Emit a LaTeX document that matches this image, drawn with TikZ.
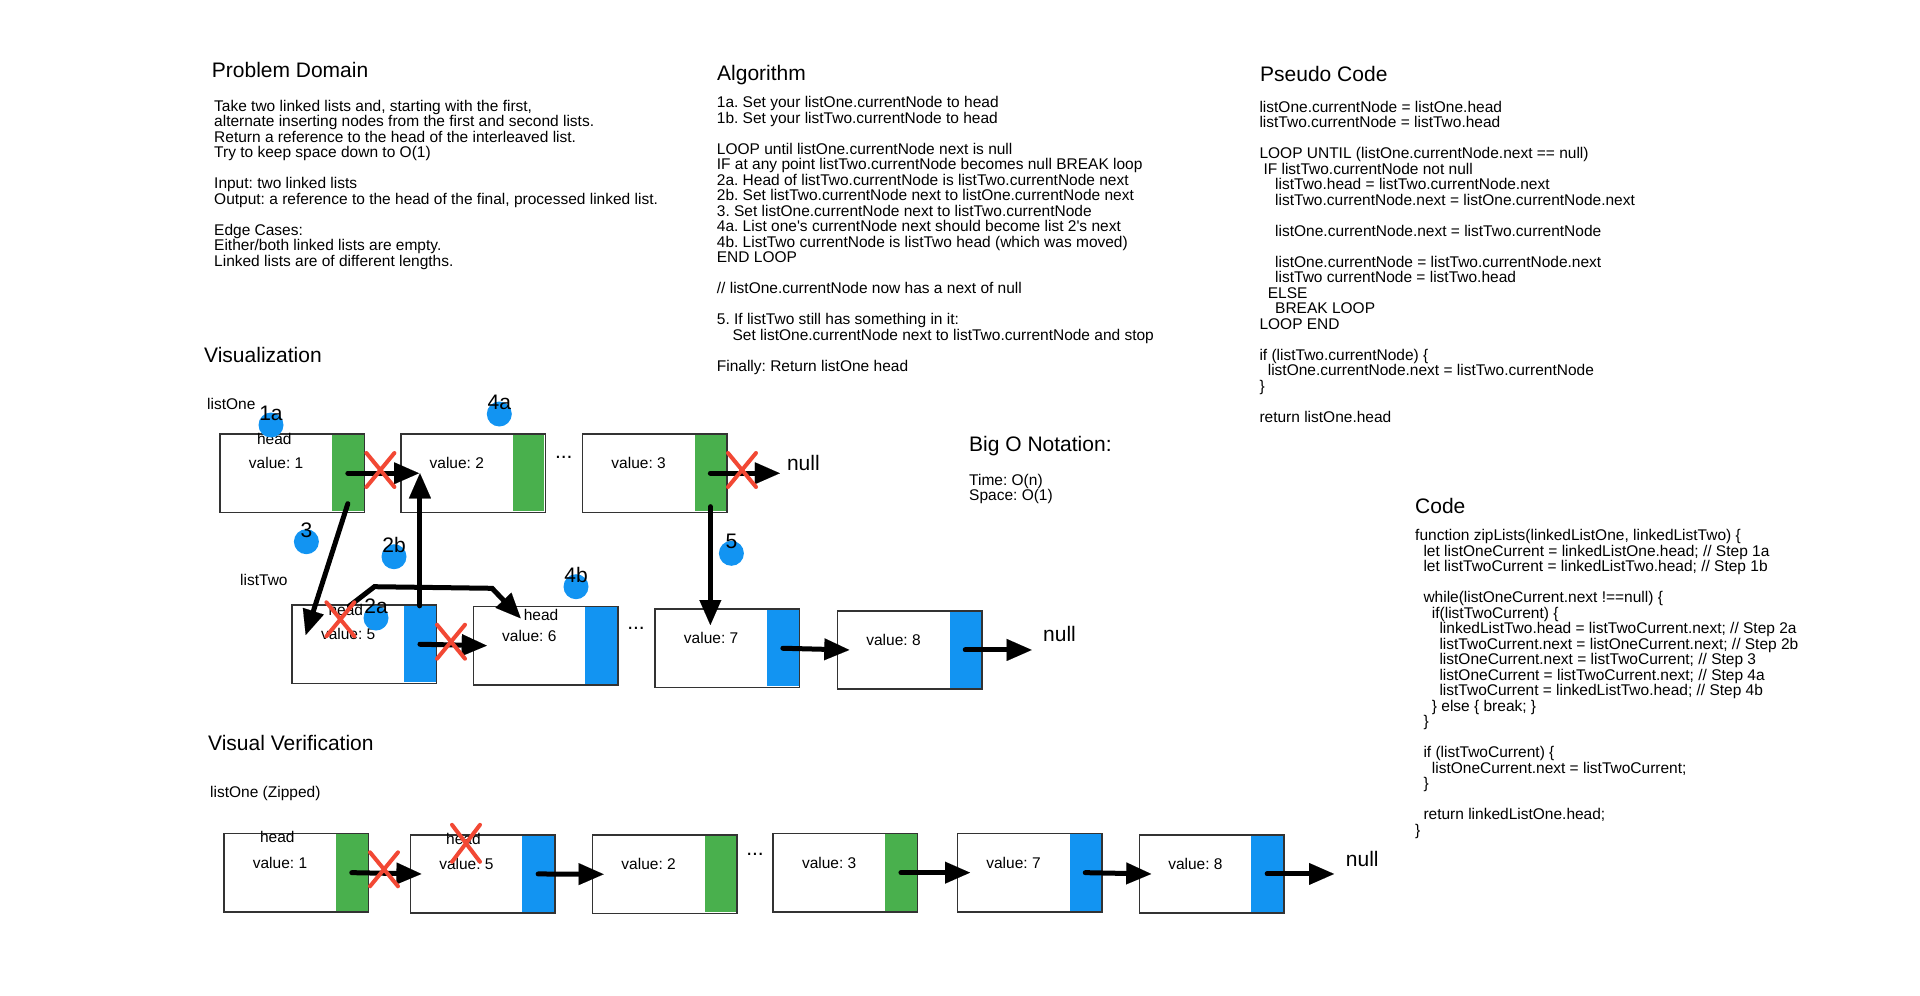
\documentclass[tikz,border=0pt]{standalone}
\usepackage{fontspec}
\setmainfont{Liberation Sans}
\usetikzlibrary{arrows.meta,shapes.misc}
\frenchspacing

\definecolor{lgreen}{RGB}{73,176,77}
\definecolor{lblue}{RGB}{18,148,242}
\definecolor{xred}{RGB}{242,72,52}

\tikzset{
  ttl/.style={font=\fontsize{21}{25}\selectfont, anchor=base west, inner sep=0},
  para/.style={align=left, anchor=north west, inner sep=0},
  lbl/.style={anchor=base west, inner sep=0},
  lbox/.style={draw=black!80, line width=1.5pt, fill=white, minimum width=144.5pt,
    minimum height=78.4pt, inner sep=0, anchor=north west},
  lbar/.style={minimum width=31.5pt, minimum height=76.4pt, inner sep=0, anchor=east},
  val/.style={anchor=base, inner sep=0},
  nul/.style={font=\fontsize{21}{25}\selectfont, anchor=base west, inner sep=0},
  dots/.style={font=\fontsize{21}{25}\selectfont, anchor=base, inner sep=0},
  badge/.style={circle, fill=lblue, minimum size=25pt, inner sep=0, outer sep=0,
    label={[font=\fontsize{21}{25}\selectfont, inner sep=0, yshift=-8.3pt]above:#1}},
  arr/.style={line width=5pt, line cap=round,
    -{Triangle[length=25pt, width=22pt, line width=0.01pt]}},
  xmark/.style={cross out, draw=xred, line width=4pt, line cap=round,
    minimum width=24pt, minimum height=30pt, inner sep=0},
}

\begin{document}
\begin{tikzpicture}[x=1pt, y=-1pt, font=\fontsize{15.5}{15.5}\selectfont]
  \useasboundingbox (0,0) rectangle (1920,996);

  % Problem Domain
  \node[ttl] (probt) at (211.7,77) {Problem Domain};
  \node[para] (prob) at (214,99.7) {Take two linked lists and, starting with the first,\\
    alternate inserting nodes from the first and second lists.\\
    Return a reference to the head of the interleaved list.\\
    Try to keep space down to O(1)\\[15.5pt]
    Input: two linked lists\\
    Output: a reference to the head of the final, processed linked list.\\[15.5pt]
    Edge Cases:\\
    Either/both linked lists are empty.\\
    Linked lists are of different lengths.};

  % Algorithm
  \node[ttl] (algot) at (717,80.7) {Algorithm};
  \node[para] (algo) at (716.7,96.4) {1a. Set your listOne.currentNode to head\\
    1b. Set your listTwo.currentNode to head\\[15.5pt]
    LOOP until listOne.currentNode next is null\\
    IF at any point listTwo.currentNode becomes null BREAK loop\\
    2a. Head of listTwo.currentNode is listTwo.currentNode next\\
    2b. Set listTwo.currentNode next to listOne.currentNode next\\
    3. Set listOne.currentNode next to listTwo.currentNode\\
    4a. List one\textquotesingle s currentNode next should become list 2\textquotesingle s next\\
    4b. ListTwo currentNode is listTwo head (which was moved)\\
    END LOOP\\[15.5pt]
    // listOne.currentNode now has a next of null\\[15.5pt]
    5. If listTwo still has something in it:\\
    \hspace*{15.7pt}Set listOne.currentNode next to listTwo.currentNode and stop\\[15.5pt]
    Finally: Return listOne head};

  % Pseudo Code
  \node[ttl] (pseudot) at (1260,81.7) {Pseudo Code};
  \node[para] (pseudo) at (1259.3,101) {listOne.currentNode = listOne.head\\
    listTwo.currentNode = listTwo.head\\[15.5pt]
    LOOP UNTIL (listOne.currentNode.next == null)\\
    \hspace*{4pt}IF listTwo.currentNode not null\\
    \hspace*{15.7pt}listTwo.head = listTwo.currentNode.next\\
    \hspace*{15.7pt}listTwo.currentNode.next = listOne.currentNode.next\\[15.5pt]
    \hspace*{15.7pt}listOne.currentNode.next = listTwo.currentNode\\[15.5pt]
    \hspace*{15.7pt}listOne.currentNode = listTwo.currentNode.next\\
    \hspace*{15.7pt}listTwo currentNode = listTwo.head\\
    \hspace*{8.3pt}ELSE\\
    \hspace*{15.7pt}BREAK LOOP\\
    LOOP END\\[15.5pt]
    if (listTwo.currentNode) \{\\
    \hspace*{8.3pt}listOne.currentNode.next = listTwo.currentNode\\
    \}\\[15.5pt]
    return listOne.head};

  % Code
  \node[ttl] (codet) at (1415,513) {Code};
  \node[para] (code) at (1415,529.4) {function zipLists(linkedListOne, linkedListTwo) \{\\
    \hspace*{8.3pt}let listOneCurrent = linkedListOne.head; // Step 1a\\
    \hspace*{8.3pt}let listTwoCurrent = linkedListTwo.head; // Step 1b\\[15.5pt]
    \hspace*{8.3pt}while(listOneCurrent.next !==null) \{\\
    \hspace*{16.7pt}if(listTwoCurrent) \{\\
    \hspace*{24.3pt}linkedListTwo.head = listTwoCurrent.next; // Step 2a\\
    \hspace*{24.3pt}listTwoCurrent.next = listOneCurrent.next; // Step 2b\\
    \hspace*{24.3pt}listOneCurrent.next = listTwoCurrent; // Step 3\\
    \hspace*{24.3pt}listOneCurrent = listTwoCurrent.next; // Step 4a\\
    \hspace*{24.3pt}listTwoCurrent = linkedListTwo.head; // Step 4b\\
    \hspace*{16.7pt}\} else \{ break; \}\\
    \hspace*{8.3pt}\}\\[15.5pt]
    \hspace*{8.3pt}if (listTwoCurrent) \{\\
    \hspace*{16.7pt}listOneCurrent.next = listTwoCurrent;\\
    \hspace*{8.3pt}\}\\[15.5pt]
    \hspace*{8.3pt}return linkedListOne.head;\\
    \}};

  % Big O
  \node[ttl] (bigot) at (969,451) {Big O Notation:};
  \node[para] (bigo) at (969,473.7) {Time: O(n)\\Space: O(1)};

  % Visualization
  \node[ttl] (vist) at (204,362) {Visualization};
  \node[lbl] (l1) at (207,409) {listOne};
  \node[lbl] (l2) at (240,585) {listTwo};
  \node[ttl] (vert) at (208,750) {Visual Verification};
  \node[lbl] (lz) at (210,797.3) {listOne (Zipped)};

  % List nodes: box, pointer bar, value
  \foreach \nm/\x/\y/\v/\c in {one1/219.3/433.3/1/lgreen, one2/400/433.3/2/lgreen,
      one3/581.8/433.3/3/lgreen, two5/291.4/604.3/5/lblue, two6/472.5/605.7/6/lblue,
      two7/654.3/608.3/7/lblue, two8/836.7/610/8/lblue, zip1/223.2/832.7/1/lgreen,
      zip5/409.6/834/5/lblue, zip2/591.8/834.3/2/lgreen, zip3/772.4/832.7/3/lgreen,
      zip7/956.7/832.7/7/lblue, zip8/1138.6/834/8/lblue} {
    \node[lbox] (\nm) at (\x,\y) {};
    \node[lbar, fill=\c] (\nm-p) at ([xshift=-1.5pt]\nm.east) {};
    \node[val] (\nm-v) at ([xshift=-16.2pt,yshift=4.5pt]\nm.center) {value: \v};
  }

  % head labels
  \node[val] (h1) at (274.3,444) {head};
  \node[val] (h5) at (345.8,615) {head};
  \node[val] (h6) at (541,620) {head};
  \node[val] (hz1) at (277.3,842.7) {head};
  \node[val] (hz5) at (463.4,844) {head};

  % nulls and gaps
  \node[nul] (null1) at (786.8,470.7) {null};
  \node[nul] (null2) at (1043,641.7) {null};
  \node[nul] (null3) at (1345.7,866) {null};
  \node[dots] (d1) at (563.8,458) {...};
  \node[dots] (d2) at (636,629) {...};
  \node[dots] (d3) at (755,855) {...};

  % Arrows, before
  \draw[arr] (one1-p.center) -- ([xshift=19pt]one2.west);
  \draw[arr, shorten >=7pt] (one3-p.center) -- (one3-p.center -| null1.west);
  \draw[arr] ([yshift=8pt]one1-p.south) -- ([xshift=14.3pt,yshift=-30.7pt]two5.north west);
  \draw[arr] (two5-p.north) -- (two5-p.north |- one2.west);
  \draw[arr] ([xshift=58pt,yshift=-1.7pt]two5.north west) -- ++(25,-19.3) -- ++(117.7,1.6)
    -- ([xshift=48.2pt,yshift=-12.6pt]two6.north west);
  \draw[arr] (two5-p.center) -- ([xshift=14.3pt]two6.west);
  \draw[arr] ([yshift=5pt]one3-p.south) -- ([yshift=-16.7pt]one3-p.south |- two7.north);
  \draw[arr] (two7-p.center) -- ([xshift=12.6pt]two8.west);
  \draw[arr, shorten >=11.3pt] (two8-p.center) -- (two8-p.center -| null2.west);

  % Arrows, zipped
  \draw[arr] (zip1-p.center) -- ([xshift=11.8pt]zip5.west);
  \draw[arr] (zip5-p.center) -- ([xshift=11.8pt]zip2.west);
  \draw[arr] (zip3-p.center) -- ([xshift=13.3pt]zip7.west);
  \draw[arr] (zip7-p.center) -- ([xshift=12.6pt]zip8.west);
  \draw[arr, shorten >=11.7pt] (zip8-p.center) -- (zip8-p.center -| null3.west);

  % Broken links
  \node[xmark] (x1) at (380.4,470) {};
  \node[xmark] (x2) at (742,470) {};
  \node[xmark] (x3) at (340.4,619.3) {};
  \node[xmark] (x4) at (451,641.7) {};
  \node[xmark] (x5) at (384,869.3) {};
  \node[xmark, minimum height=33pt] (x6) at (466,843.3) {};

  % Step markers
  \node[badge=1a] (s1a) at (271,425) {};
  \node[badge=4a] (s4a) at (499.3,414) {};
  \node[badge=3] (s3) at (306.4,541.7) {};
  \node[badge=2b] (s2b) at (394,556.7) {};
  \node[badge=4b] (s4b) at (576,586.7) {};
  \node[badge=2a] (s2a) at (376,618) {};
  \node[badge=5] (s5) at (731.4,553.3) {};
\end{tikzpicture}
\end{document}
